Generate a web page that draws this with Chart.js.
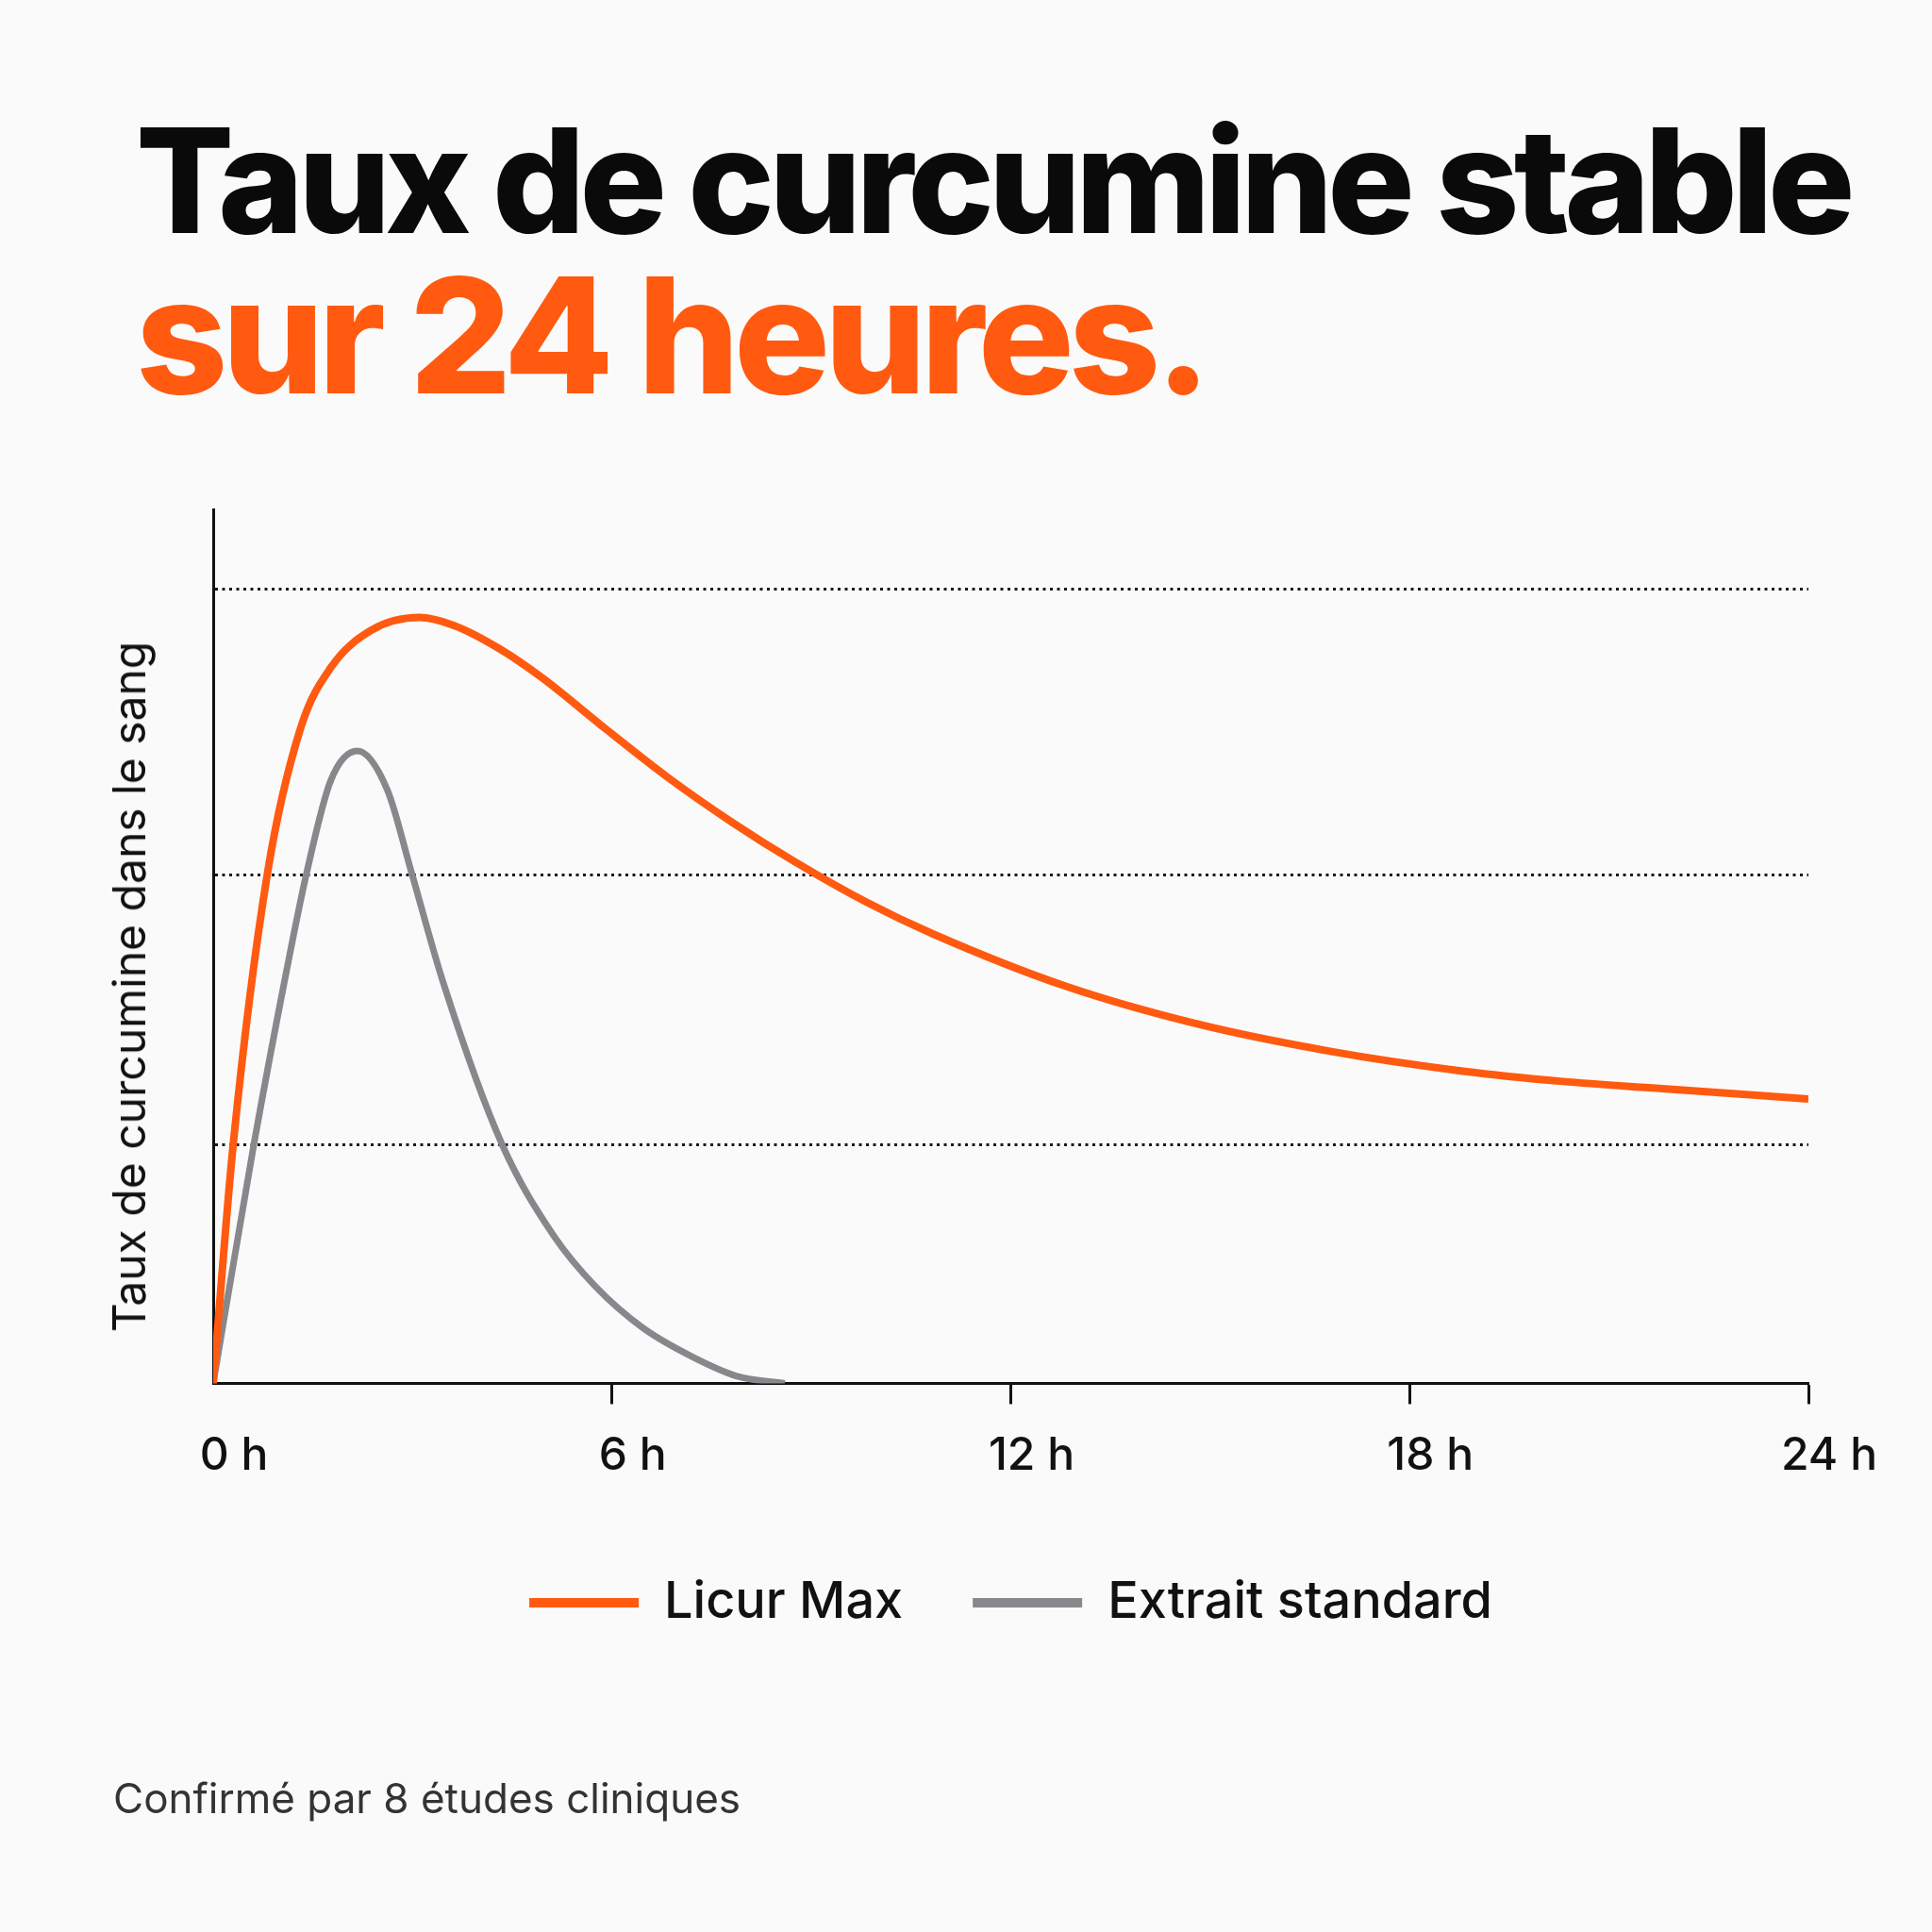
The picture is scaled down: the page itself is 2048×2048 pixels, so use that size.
<!DOCTYPE html>
<html lang="fr">
<head>
<meta charset="utf-8">
<title>Taux de curcumine stable sur 24 heures</title>
<script src="https://cdn.jsdelivr.net/npm/chart.js@4.4.1/dist/chart.umd.min.js"></script>
<style>
  html, body { margin: 0; padding: 0; background: #fafafa; }
  #page { position: relative; width: 2048px; height: 2048px; overflow: hidden; font-family: Inter, "Noto Sans", sans-serif; }
  .headline { position: absolute; left: 144px; margin: 0; font-weight: 800; line-height: 1; white-space: nowrap; }
  #line1 { top: 114px; font-size: 154px; color: #0a0a0a; letter-spacing: -5.7px; }
  #line2 { top: 270px; font-size: 170px; color: #ff5a10; letter-spacing: -6px; }
  #ylabel { position: absolute; left: 137px; top: 1046px; transform: translate(-50%, -50%) rotate(-90deg);
            font-size: 48px; line-height: 1; color: #111; white-space: nowrap; }
  #note { position: absolute; left: 120px; top: 1884px; margin: 0; font-size: 44px; line-height: 1; color: #333; }
  #chartBox { position: absolute; left: 0; top: 0; width: 2048px; height: 2048px; }
</style>
</head>
<body>
<div id="page">
  <div class="headline" id="line1">Taux de curcumine stable</div>
  <div class="headline" id="line2">sur 24 heures.</div>
  <div id="chartBox"><canvas id="levelChart"></canvas></div>
  <div id="ylabel">Taux de curcumine dans le sang</div>
  <p id="note">Confirmé par 8 études cliniques</p>
</div>
<script>
// x axis ticks (hours) and their labels
const hourTicks = [0, 6, 12, 18, 24];
const hourLabels = ['0 h', '6 h', '12 h', '18 h', '24 h'];

// dotted reference levels on the y axis (no labels shown)
const gridLevels = [30, 64, 100];

const seriesNames = ['Licur Max', 'Extrait standard'];

// Licur Max curve
const licurHours = [0, 0.3, 0.82, 1.32, 1.77, 2.38, 3.1, 3.62, 4.32, 4.95, 5.9, 6.85, 7.81, 8.76, 9.82, 10.82, 12.82, 14.82, 16.8, 18.8, 20.3, 21.8, 24];
const licurLevel = [0, 30, 64.4, 82.6, 90.1, 94.8, 96.4, 95.4, 92.4, 88.8, 82.4, 76.2, 70.6, 65.6, 60.6, 56.6, 50.0, 45.2, 41.8, 39.3, 38.0, 37.1, 35.8];

// standard extract curve
const extraitHours = [0, 0.61, 1.105, 1.41, 1.77, 2.17, 2.62, 2.98, 3.47, 4.35, 5.13, 5.75, 6.46, 7.17, 7.88, 8.6];
const extraitLevel = [0, 30.0, 52.0, 64.4, 75.9, 79.6, 74.7, 64.4, 50.2, 30.0, 18.5, 12.2, 7.0, 3.5, 0.9, 0];

const orange = '#ff5a10';
const grey = '#88888c';

function toPoints(xs, ys) {
    return xs.map((x, i) => ({ x: x, y: ys[i] }));
}

const ctx = document.getElementById('levelChart').getContext('2d');
const levelChart = new Chart(ctx, {
    type: 'line',
    data: {
        datasets: [{
            label: seriesNames[0],
            data: toPoints(licurHours, licurLevel),
            borderColor: orange,
            backgroundColor: orange,
            borderWidth: 8,
            pointRadius: 0,
            cubicInterpolationMode: 'monotone',
            fill: false
        }, {
            label: seriesNames[1],
            data: toPoints(extraitHours, extraitLevel),
            borderColor: grey,
            backgroundColor: grey,
            borderWidth: 7,
            pointRadius: 0,
            cubicInterpolationMode: 'monotone',
            fill: false
        }]
    },
    options: {
        responsive: true,
        maintainAspectRatio: false,
        devicePixelRatio: 1,
        animation: false,
        layout: {
            padding: { top: 540, left: 60, right: 131, bottom: 312 }
        },
        scales: {
            x: {
                type: 'linear',
                min: 0,
                max: 24,
                afterBuildTicks: scale => { scale.ticks = hourTicks.map(v => ({ value: v })); },
                ticks: {
                    padding: 26,
                    labelOffset: 22,
                    color: '#111',
                    font: { family: 'Inter', size: 48, weight: 500 },
                    callback: value => hourLabels[hourTicks.indexOf(value)]
                },
                grid: {
                    drawOnChartArea: false,
                    drawTicks: true,
                    tickLength: 22,
                    tickWidth: 3,
                    tickColor: c => c.index === 0 ? 'rgba(0,0,0,0)' : '#111'
                },
                border: { display: true, color: '#111', width: 3 }
            },
            y: {
                min: 0,
                max: 110,
                afterBuildTicks: scale => { scale.ticks = gridLevels.map(v => ({ value: v })); },
                afterFit: scale => { scale.width = 166; },
                ticks: { display: false },
                grid: {
                    drawTicks: false,
                    color: '#1a1a1a',
                    lineWidth: 3
                },
                border: { display: true, color: '#111', width: 3, dash: [3, 4.5] }
            }
        },
        plugins: {
            legend: {
                position: 'bottom',
                fullSize: false,
                labels: {
                    color: '#111',
                    font: { family: 'Inter', size: 54, weight: 500 },
                    boxWidth: 116,
                    boxHeight: 10,
                    padding: 74,
                    generateLabels: chart => Chart.defaults.plugins.legend.labels.generateLabels(chart)
                        .map(item => Object.assign(item, { lineWidth: 0 }))
                }
            },
            tooltip: { enabled: false }
        }
    }
});
</script>
</body>
</html>
